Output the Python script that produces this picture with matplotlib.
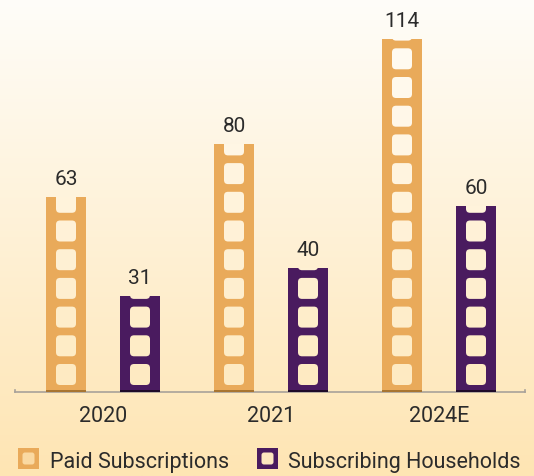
import numpy as np
import matplotlib
matplotlib.use("Agg")
import matplotlib.pyplot as plt
from matplotlib.patches import FancyBboxPatch, Rectangle
from matplotlib.colors import to_rgb

# ---- data ----
categories = ["2020", "2021", "2024E"]
paid_subscriptions = [63, 80, 114]
subscribing_households = [31, 40, 60]
series_names = ["Paid Subscriptions", "Subscribing Households"]

# ---- style ----
W, H = 534, 477
ORANGE = "#E9AA5A"
ORANGE_DARK = "#A87532"
PURPLE = "#4A1B5F"
PURPLE_DARK = "#1E0B2A"
TOP_BG = np.array(to_rgb("#FFFDF9"))
BOT_BG = np.array(to_rgb("#FEE5B3"))
TEXT = "#2B2B2B"
FONT = ["Roboto", "DejaVu Sans"]

def bg_at(t):
    return tuple(TOP_BG + (BOT_BG - TOP_BG) * np.clip(t, 0, 1))

fig = plt.figure(figsize=(W / 100, H / 100), dpi=100)

# background gradient
bgax = fig.add_axes([0, 0, 1, 1], zorder=-10)
grad = np.linspace(0, 1, 256)[:, None, None]
img = TOP_BG[None, None, :] + (BOT_BG - TOP_BG)[None, None, :] * grad
bgax.imshow(img, aspect="auto", extent=[0, 1, 0, 1], origin="upper")
bgax.axis("off")

# main axes: baseline at 393 px from top, 3.1 px per unit
base_px = 393
ppu = 3.1
ymax = 120
ax_h = ymax * ppu
ax_left, ax_right = 15, 525
ax = fig.add_axes([ax_left / W, (H - base_px) / H, (ax_right - ax_left) / W, ax_h / H])
ax.patch.set_alpha(0)

x = np.arange(len(categories))
spacing_px = 168
xlim = ((ax_left - 103) / spacing_px, (ax_right - 103) / spacing_px)
ax.set_xlim(*xlim)
ax.set_ylim(0, ymax)

bw = 40 / spacing_px
off = 37 / spacing_px

sq_w = 20 / spacing_px
sq_h = 21 / ppu
sq_b0 = 7 / ppu
period = 28.7 / ppu
aspect = (1 / ppu) / (1 / spacing_px)
rad = 4 / spacing_px

def ladder(xc, vals, color, dark):
    bars = ax.bar(xc, vals, width=bw, color=color, zorder=3)
    ax.bar(xc, [0.8] * len(vals), width=bw, color=dark, zorder=5)
    for rect, v, xi in zip(bars, vals, xc):
        k = 0
        while sq_b0 + k * period < v:
            yb = sq_b0 + k * period
            ypix = base_px - (yb + sq_h / 2) * ppu
            p = FancyBboxPatch((xi - sq_w / 2, yb), sq_w, sq_h,
                               boxstyle=f"round,pad=0,rounding_size={rad}",
                               mutation_aspect=aspect,
                               facecolor=bg_at(ypix / H), edgecolor="none", zorder=4)
            ax.add_patch(p)
            p.set_clip_path(rect)
            k += 1
        ax.annotate(f"{v}", (xi, v), xytext=(0, 13), textcoords="offset pixels",
                    ha="center", va="baseline", fontsize=15, color=TEXT, family=FONT)
    return bars

ladder(x - off, paid_subscriptions, ORANGE, ORANGE_DARK)
ladder(x + off, subscribing_households, PURPLE, PURPLE_DARK)

for s in ["top", "left", "right"]:
    ax.spines[s].set_visible(False)
ax.spines["bottom"].set_color("#A8A29A")
ax.spines["bottom"].set_linewidth(1.2)
ax.plot([1, 1], [0, 2 / ax_h], transform=ax.transAxes, color="#A8A29A", lw=1.2, clip_on=False)
ax.plot([0, 0], [0, 2 / ax_h], transform=ax.transAxes, color="#A8A29A", lw=1.2, clip_on=False)
ax.set_yticks([])
ax.set_xticks(x)
ax.set_xticklabels(categories, fontsize=15.5, color=TEXT, family=FONT)
ax.tick_params(axis="x", length=0, pad=9.5)

# legend
def px_box(x0, y0, w, h):
    return (x0 / W, 1 - (y0 + h) / H, w / W, h / H)

legend_items = [(18, 49.5, ORANGE, "#FAD9A2"), (257, 288, PURPLE, "#FDE7BF")]
for name, (mx, tx, col, inner) in zip(series_names, legend_items):
    bx, by, bwf, bhf = px_box(mx, 449, 21, 21)
    fig.patches.append(Rectangle((bx, by), bwf, bhf, transform=fig.transFigure,
                                 facecolor=col, edgecolor="none"))
    ix, iy, iwf, ihf = px_box(mx + 4.5, 453.5, 12, 12)
    fig.patches.append(FancyBboxPatch((ix, iy), iwf, ihf, transform=fig.transFigure,
                                      boxstyle=f"round,pad=0,rounding_size={2.5 / W}",
                                      mutation_aspect=W / H,
                                      facecolor=inner, edgecolor="none"))
    fig.text(tx / W, 1 - 462.5 / H, name, ha="left", va="center", fontsize=15.5,
             color=TEXT, family=FONT)

fig.savefig("out.png", dpi=100)
